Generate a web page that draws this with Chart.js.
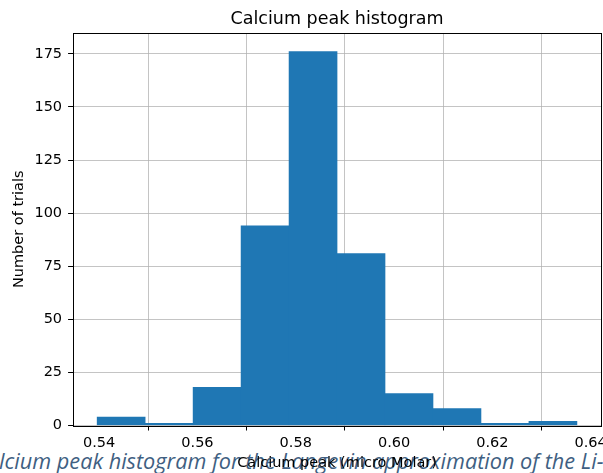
<!DOCTYPE html>
<html>
<head>
<meta charset="utf-8">
<script src="https://cdn.jsdelivr.net/npm/chart.js@4.4.1/dist/chart.umd.min.js"></script>
<style>
  html, body { margin: 0; padding: 0; background: #fff; }
  #wrap { position: relative; width: 603px; height: 473px; overflow: hidden; }
  #caption {
    position: absolute; left: -26px; top: 450px; white-space: nowrap;
    font: italic 21.7px/22px "Open Sans", sans-serif; color: #3f5f82; z-index: 0;
  }
  #hist { position: absolute; left: 0; top: 0; z-index: 1; }
</style>
</head>
<body>
<div id="wrap">
  <div id="caption">Calcium peak histogram for the Langevin approximation of the Li-Rinzel model</div>
  <canvas id="hist" width="603" height="473"></canvas>
</div>
<script>
// histogram bins (micro Molar) and counts
var binEdges = [0.53960, 0.54936, 0.55912, 0.56888, 0.57864, 0.58840, 0.59816, 0.60792, 0.61768, 0.62744, 0.63720];
var counts = [4, 1, 18, 94, 176, 81, 15, 8, 1, 2];
var xTicks = [0.54, 0.56, 0.58, 0.60, 0.62, 0.64];
var yTicks = [0, 25, 50, 75, 100, 125, 150, 175];

var points = [];
counts.forEach(function(c, i) {
  points.push({ x: (binEdges[i] + binEdges[i + 1]) / 2, y: c });
});

var font = { family: "DejaVu Sans", size: 14.5 };

// black box round the plot, like matplotlib spines
var frame = {
  id: 'frame',
  afterDraw: function(chart) {
    var a = chart.chartArea, ctx = chart.ctx;
    ctx.save();
    ctx.strokeStyle = '#000';
    ctx.lineWidth = 1;
    ctx.strokeRect(Math.round(a.left) + 0.5, Math.round(a.top) + 0.5,
      Math.round(a.right - a.left), Math.round(a.bottom - a.top));
    ctx.restore();
  }
};

var myChart = new Chart(document.getElementById("hist"), {
  type: 'bar',
  data: {
    datasets: [{
      data: points,
      backgroundColor: '#1f77b4',
      borderWidth: 0,
      barPercentage: 1,
      categoryPercentage: 1
    }]
  },
  options: {
    responsive: false,
    animation: false,
    layout: { autoPadding: false, padding: { left: 0, right: 2, top: 0, bottom: 0 } },
    plugins: {
      legend: { display: false },
      tooltip: { enabled: false },
      title: {
        display: true,
        text: 'Calcium peak histogram',
        fullSize: false,
        color: '#000',
        font: { family: "DejaVu Sans", size: 17.5, weight: 'normal' },
        padding: { top: 9, bottom: 3 }
      }
    },
    scales: {
      x: {
        type: 'linear',
        min: 0.5347,
        max: 0.6421,
        offset: false,
        z: 1,
        border: { display: false },
        grid: { color: 'rgba(176,176,176,0.75)', tickColor: '#000', tickLength: 5, drawTicks: true },
        afterBuildTicks: function(s) { s.ticks = xTicks.map(function(v) { return { value: v }; }); },
        afterFit: function(s) { s.paddingLeft = 0; s.paddingRight = 0; },
        ticks: {
          color: '#000', font: font, padding: 4, maxRotation: 0,
          callback: function(v) { return v.toFixed(2); }
        },
        title: {
          display: true, text: 'Calcium peak (micro Molar)', color: '#000',
          font: { family: "DejaVu Sans", size: 14.5, lineHeight: 1 },
          padding: { top: 0, bottom: 2.6 }
        }
      },
      y: {
        min: 0,
        max: 184.8,
        z: 1,
        border: { display: false },
        grid: { color: 'rgba(176,176,176,0.75)', tickColor: '#000', tickLength: 5, drawTicks: true },
        afterBuildTicks: function(s) { s.ticks = yTicks.map(function(v) { return { value: v }; }); },
        afterFit: function(s) { s.paddingTop = 0; s.paddingBottom = 0; },
        ticks: { color: '#000', font: font, padding: 6 },
        title: {
          display: true, text: 'Number of trials', color: '#000', font: font,
          padding: { top: 11, bottom: 0 }
        }
      }
    }
  },
  plugins: [frame]
});
</script>
</body>
</html>
